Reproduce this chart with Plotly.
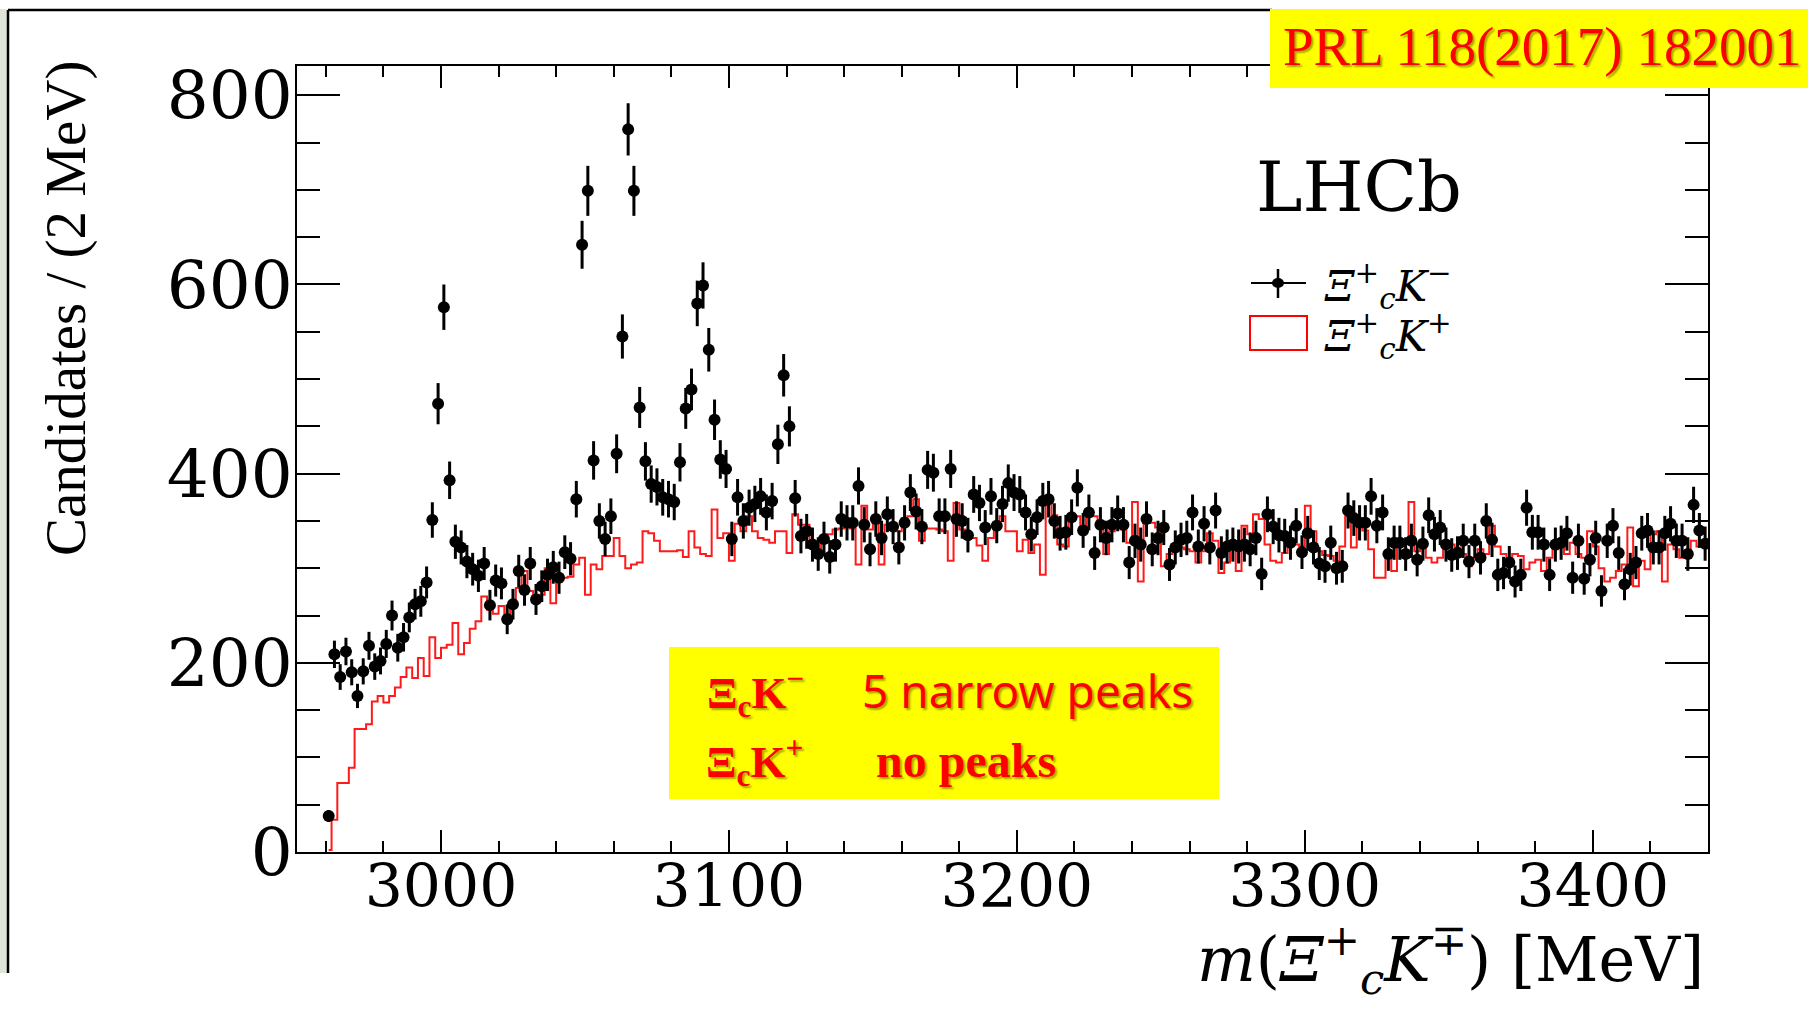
import numpy as np
import plotly.graph_objects as go

# ---------------- data (2 MeV bins, centres 2961 ... 3439 MeV) ----------------
bin_centers = list(range(2961, 3440, 2))

# Xi_c+ K-  (black points)
xic_kminus = [
    38, 209, 185, 212, 190, 165, 191, 218, 196, 202,
    220, 250, 216, 227, 248, 262, 265, 285, 351, 474,
    576, 393, 328, 322, 307, 299, 292, 305, 261, 287,
    284, 246, 262, 297, 277, 305, 267, 281, 293, 301,
    290, 317, 310, 373, 642, 699, 414, 350, 331, 355,
    421, 545, 764, 699, 470, 413, 389, 386, 375, 373,
    370, 412, 469, 489, 580, 599, 531, 457, 415, 405,
    331, 375, 350, 364, 368, 376, 359, 371, 431, 504,
    450, 374, 334, 339, 325, 315, 331, 312, 325, 352,
    348, 348, 387, 346, 320, 352, 332, 357, 344, 322,
    348, 380, 360, 344, 404, 401, 355, 355, 405, 352,
    350, 335, 378, 369, 343, 376, 345, 368, 390, 380,
    378, 359, 336, 354, 371, 373, 350, 337, 338, 354,
    385, 340, 359, 316, 346, 332, 346, 358, 346, 306,
    329, 325, 352, 320, 332, 343, 304, 322, 330, 332,
    359, 323, 347, 322, 361, 316, 323, 325, 323, 325,
    320, 332, 294, 357, 344, 335, 334, 327, 345, 317,
    337, 322, 305, 302, 327, 300, 302, 361, 353, 348,
    348, 376, 345, 359, 315, 327, 327, 315, 329, 309,
    326, 356, 336, 343, 325, 314, 316, 329, 307, 329,
    311, 350, 330, 293, 295, 306, 286, 293, 364, 338,
    338, 325, 293, 325, 327, 337, 290, 329, 289, 309,
    332, 276, 329, 345, 316, 283, 299, 306, 337, 340,
    322, 322, 337, 347, 329, 329, 315, 367, 340, 326,
]

# Xi_c+ K+  (red histogram)
xic_kplus = [
    2, 34, 73, 73, 89, 130, 130, 135, 159, 165,
    158, 165, 174, 185, 195, 184, 205, 186, 227, 205,
    216, 219, 242, 209, 221, 236, 244, 270, 256, 252,
    260, 251, 260, 279, 297, 276, 270, 272, 300, 263,
    286, 290, 291, 304, 311, 272, 304, 299, 313, 313,
    332, 313, 300, 304, 306, 339, 337, 329, 318, 318,
    318, 319, 312, 339, 322, 315, 313, 362, 332, 337,
    308, 347, 339, 355, 339, 332, 330, 327, 339, 339,
    316, 357, 346, 346, 325, 316, 332, 336, 341, 342,
    346, 342, 304, 366, 341, 353, 304, 346, 348, 339,
    353, 355, 373, 329, 342, 342, 341, 339, 308, 369,
    341, 336, 332, 324, 308, 332, 344, 355, 339, 339,
    318, 330, 316, 325, 293, 371, 356, 325, 323, 350,
    355, 336, 355, 355, 343, 315, 339, 343, 341, 327,
    370, 286, 355, 348, 343, 302, 315, 324, 322, 320,
    318, 306, 318, 337, 329, 295, 306, 322, 297, 345,
    336, 357, 352, 325, 308, 306, 316, 332, 325, 323,
    366, 339, 318, 314, 313, 308, 323, 355, 322, 353,
    340, 320, 290, 290, 313, 297, 325, 329, 370, 318,
    323, 311, 306, 311, 322, 325, 322, 315, 302, 311,
    320, 315, 345, 323, 315, 308, 315, 313, 299, 306,
    309, 297, 311, 320, 329, 315, 327, 315, 311, 339,
    323, 300, 286, 290, 297, 304, 343, 281, 308, 299,
    336, 339, 286, 325, 320, 311, 318, 329, 323, 323,
]

x_tick_values = [3000, 3100, 3200, 3300, 3400]
y_tick_values = [0, 200, 400, 600, 800]

W, H = 1808, 1012
# the page is drawn with an effective height slightly smaller than H and a
# small top offset; vertical positions are given in target pixels and mapped here
EFF_H, TOP_OFF = 964.0, 8.0


def px(x):
    return x / W


def py(y):
    return 1 - (y - TOP_OFF) / EFF_H


n = min(len(bin_centers), len(xic_kminus), len(xic_kplus))
xc = bin_centers[:n]
ym = xic_kminus[:n]
yp = xic_kplus[:n]

fig = go.Figure()

fig.add_trace(go.Scatter(
    x=xc, y=yp, mode="lines", name="Ξc+K+",
    line=dict(color="#ff1a1a", width=2, shape="hvh"),
    showlegend=False, hoverinfo="skip",
))

fig.add_trace(go.Scatter(
    x=xc, y=ym, mode="markers", name="Ξc+K−",
    marker=dict(color="black", size=12, symbol="circle", line=dict(width=0)),
    error_y=dict(type="data", array=np.sqrt(np.array(ym, dtype=float)),
                 width=0, thickness=3, color="black"),
    showlegend=False,
))

axis_common = dict(
    showline=True, linecolor="black", linewidth=2, mirror="allticks",
    ticks="inside", tickcolor="black", tickwidth=2,
    showgrid=False, zeroline=False,
)

fig.update_xaxes(
    range=[2950, 3440], domain=[px(297), px(1708)],
    tickvals=x_tick_values, ticklen=22, ticklabelstandoff=-19,
    tickfont=dict(family="DejaVu Serif", size=60, color="black"),
    minor=dict(ticks="inside", ticklen=11, tickwidth=2, tickcolor="black",
               tick0=3000, dtick=20),
    **axis_common,
)
fig.update_yaxes(
    range=[0, 831], domain=[py(851), py(65)],
    tickvals=y_tick_values, ticklen=43, ticklabelstandoff=-11,
    tickfont=dict(family="DejaVu Serif", size=66, color="black"),
    minor=dict(ticks="inside", ticklen=23, tickwidth=2, tickcolor="black",
               tick0=0, dtick=50),
    **axis_common,
)

shadow = "2px 2px 2px rgba(0,0,0,0.35)"
red = "#ff0000"

shapes = [
    # slide border (left / top)
    dict(type="rect", xref="paper", yref="paper", x0=0, x1=px(7), y0=0, y1=1,
         fillcolor="#dfe4d8", line=dict(width=0), layer="below"),
    dict(type="line", xref="paper", yref="paper", x0=px(8), x1=px(8), y0=0, y1=py(9),
         line=dict(color="black", width=2.5)),
    dict(type="line", xref="paper", yref="paper", x0=px(8), x1=px(1272), y0=py(9), y1=py(9),
         line=dict(color="black", width=2.5)),
    # yellow boxes
    dict(type="rect", xref="paper", yref="paper", x0=px(1270), x1=1, y0=py(87), y1=1,
         fillcolor="#ffff00", line=dict(width=0), layer="above"),
    dict(type="rect", xref="paper", yref="paper", x0=px(669), x1=px(1219), y0=py(798), y1=py(646),
         fillcolor="#ffff00", line=dict(width=0), layer="above"),
    # legend: black point with error bar
    dict(type="line", xref="paper", yref="paper", x0=px(1251), x1=px(1306), y0=py(282), y1=py(282),
         line=dict(color="black", width=2)),
    dict(type="line", xref="paper", yref="paper", x0=px(1278), x1=px(1278), y0=py(268), y1=py(297),
         line=dict(color="black", width=2.5)),
    dict(type="circle", xref="paper", yref="paper", x0=px(1272), x1=px(1284), y0=py(287), y1=py(277),
         fillcolor="black", line=dict(color="black", width=0)),
    # legend: red empty box
    dict(type="rect", xref="paper", yref="paper", x0=px(1250), x1=px(1307), y0=py(349), y1=py(315),
         fillcolor="rgba(0,0,0,0)", line=dict(color=red, width=2)),
]

annotations = [
    # y-axis title
    dict(text="Candidates / (2 MeV)", x=px(66), y=py(308), xref="paper", yref="paper",
         textangle=-90, showarrow=False, xanchor="center", yanchor="middle",
         font=dict(family="Liberation Serif", size=57, color="black")),
    # x-axis title
    dict(text="<i>m</i>(<i>Ξ</i><sup>+</sup><sub><i>c</i></sub><i>K</i><sup>∓</sup>) [MeV]",
         x=px(1706), y=py(958), xref="paper", yref="paper", showarrow=False,
         xanchor="right", yanchor="middle",
         font=dict(family="DejaVu Serif", size=62, color="black")),
    # LHCb label
    dict(text="LHCb", x=px(1359), y=py(186), xref="paper", yref="paper", showarrow=False,
         xanchor="center", yanchor="middle",
         font=dict(family="DejaVu Serif", size=70, color="black")),
    # legend texts
    dict(text="<i>Ξ</i><sup>+</sup><sub><i>c</i></sub><i>K</i><sup>−</sup>",
         x=px(1322), y=py(285), xref="paper", yref="paper", showarrow=False,
         xanchor="left", yanchor="middle",
         font=dict(family="DejaVu Serif", size=42, color="black")),
    dict(text="<i>Ξ</i><sup>+</sup><sub><i>c</i></sub><i>K</i><sup>+</sup>",
         x=px(1322), y=py(335), xref="paper", yref="paper", showarrow=False,
         xanchor="left", yanchor="middle",
         font=dict(family="DejaVu Serif", size=42, color="black")),
    # reference
    dict(text="PRL 118(2017) 182001", x=px(1542), y=py(46), xref="paper", yref="paper",
         showarrow=False, xanchor="center", yanchor="middle",
         font=dict(family="Liberation Serif", size=55, color=red, shadow=shadow)),
    # yellow box texts
    dict(text="<b>Ξ<sub>c</sub>K<sup>−</sup></b>", x=px(705), y=py(691), xref="paper", yref="paper",
         showarrow=False, xanchor="left", yanchor="middle",
         font=dict(family="Liberation Serif", size=45, color=red, shadow=shadow)),
    dict(text="5 narrow peaks", x=px(860), y=py(689), xref="paper", yref="paper",
         showarrow=False, xanchor="left", yanchor="middle",
         font=dict(family="Noto Sans", size=46, color=red, shadow=shadow)),
    dict(text="<b>Ξ<sub>c</sub>K<sup>+</sup></b>", x=px(704), y=py(760), xref="paper", yref="paper",
         showarrow=False, xanchor="left", yanchor="middle",
         font=dict(family="Liberation Serif", size=45, color=red, shadow=shadow)),
    dict(text="<b>no peaks</b>", x=px(874), y=py(759), xref="paper", yref="paper",
         showarrow=False, xanchor="left", yanchor="middle",
         font=dict(family="Liberation Serif", size=48, color=red, shadow=shadow)),
]

fig.update_layout(
    width=W, height=H,
    margin=dict(l=0, r=0, t=0, b=0),
    paper_bgcolor="white", plot_bgcolor="white",
    showlegend=False,
    shapes=shapes,
    annotations=annotations,
)

fig.write_html("out.html")
